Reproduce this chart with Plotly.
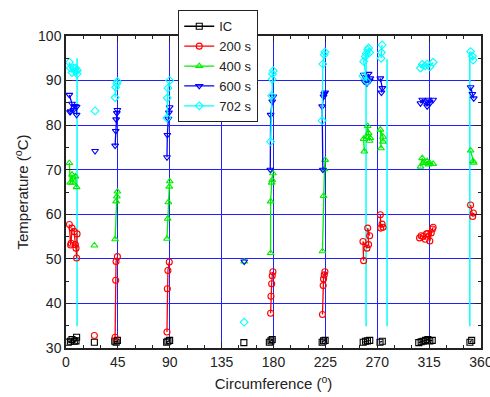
import plotly.graph_objects as go

# ---- data (None separates clusters that are not connected) ----
ic_x = [2.0, 3.8, 5.2, 7.2, 8.7, 9.2, None, 24.6, None, 42.3, 43.5, 44.6, None,
        87.3, 88.4, 89.9, None, 154.3, None, 176.4, 177.8, 178.9, None,
        222.2, 223.4, 224.8, None, 257.8, 259.8, 261.5, 263.5, None, 272.4, 274.4, None,
        306.0, 308.1, 309.8, 311.9, 313.9, 315.6, 317.7, None, 350.4, 351.9]
ic_y = [31.3, 31.5, 31.9, 31.5, 31.6, 32.4, None, 31.3, None, 31.5, 31.3, 31.7, None,
        31.3, 31.5, 31.7, None, 31.2, None, 31.3, 31.6, 31.9, None,
        31.3, 31.6, 31.7, None, 31.3, 31.5, 31.6, 31.7, None, 31.3, 31.5, None,
        31.2, 31.4, 31.5, 31.7, 31.9, 31.6, 31.7, None, 31.3, 31.7]

s200_x = [2.9, 4.0, 4.4, 5.2, 7.2, 8.1, 8.7, 9.2, 9.6, None, 24.6, None,
          42.6, 43.1, 43.4, 44.6, None, 87.6, 87.9, 88.4, 89.6, None,
          177.5, 177.8, 178.4, 178.9, 179.5, None, 222.5, 223.1, 223.4, 224.0, 224.6, None,
          258.2, 257.6, 261.1, 262.5, 261.7, 263.4, None, 272.7, 273.0, 274.2, 275.0, None,
          306.7, 308.1, 309.8, 311.6, 312.7, 313.9, 315.6, 316.8, 317.9, 318.5, None,
          351.0, 352.8, 353.4]
s200_y = [57.7, 53.1, 53.5, 56.9, 56.1, 53.2, 52.4, 50.2, 55.6, None, 32.8, None,
          32.4, 45.2, 49.4, 50.5, None, 33.6, 43.3, 47.4, 49.3, None,
          37.8, 41.6, 44.4, 46.2, 47.1, None, 37.5, 44.0, 45.5, 46.4, 47.1, None,
          49.6, 53.9, 52.4, 53.2, 56.9, 55.2, None, 59.9, 56.9, 57.8, 57.1, None,
          54.7, 55.2, 55.0, 54.4, 55.6, 55.7, 54.0, 55.8, 56.7, 57.1, None,
          62.1, 59.5, 60.3]

s400_x = [2.9, 3.7, 5.2, 5.8, 8.1, 9.2, None, 24.6, None,
          42.6, 43.5, 44.1, 44.6, None, 87.6, 88.2, 88.8, 89.6, 90.0, None,
          154.6, None, 177.5, 177.5, 178.4, 178.9, 179.5, None,
          222.5, 223.4, 224.2, 224.8, None,
          258.8, 258.2, 260.5, 261.7, 262.5, 263.4, 264.0, None,
          273.3, 272.7, 275.0, 275.0, None,
          307.5, 309.0, 309.8, 311.6, 313.3, 314.5, 315.6, 318.5, None,
          351.0, 353.1, 353.7]
s400_y = [71.5, 67.1, 68.9, 67.1, 68.5, 66.1, None, 53.0, None,
          54.4, 62.9, 64.0, 65.1, None, 54.5, 59.0, 62.7, 66.2, 67.4, None,
          49.4, None, 51.3, 62.9, 67.1, 67.7, 69.2, None,
          51.7, 64.1, 70.1, 72.2, None,
          74.1, 76.9, 77.4, 79.8, 78.2, 76.5, 77.1, None,
          74.8, 79.0, 77.4, 76.3, None,
          70.7, 72.6, 71.5, 71.5, 71.9, 71.2, 71.5, 71.3, None,
          74.3, 71.9, 71.6]

s600_x = [2.9, 5.2, 4.0, 3.5, 6.4, 7.8, 9.2, 9.2, None, 25.2, None,
          42.6, 43.1, 43.5, 44.1, 44.6, None, 87.6, 87.9, 88.8, 89.3, 89.9, None,
          154.6, None, 177.2, 177.5, 178.9, 179.8, None,
          222.8, 222.2, 223.4, 224.0, 224.8, None,
          258.2, 258.8, 260.5, 261.1, 262.5, 263.4, 264.0, None,
          272.7, 274.4, 273.6, None,
          307.5, 309.0, 311.6, 313.3, 314.5, 315.6, 318.5, None,
          351.0, 352.5, 353.7]
s600_y = [86.8, 84.8, 83.1, 82.9, 83.4, 84.3, 84.1, 82.3, None, 74.2, None,
          75.4, 78.7, 81.3, 82.7, 83.4, None, 72.8, 77.8, 81.4, 82.8, 84.0, None,
          49.4, None, 70.0, 82.3, 85.3, 86.4, None,
          70.0, 84.2, 86.4, 87.0, 87.3, None,
          91.3, 89.8, 90.3, 89.4, 91.5, 90.0, 90.5, None,
          90.5, 88.3, 87.3, None,
          84.9, 85.7, 85.3, 84.2, 85.7, 84.9, 85.7, None,
          88.5, 87.0, 86.0]

s702_x = [2.9, 3.8, 5.2, 6.4, 8.1, 8.7, 9.8, 9.6, None, 25.2, None,
          42.6, 43.1, 44.1, 44.6, None, 87.6, 87.9, 88.4, 89.9, None,
          154.6, None, 177.5, 178.4, 178.9, 179.2, 179.8, None,
          222.2, 222.8, 224.0, 224.6, None,
          257.6, 261.1, 258.2, 259.6, 260.5, 261.7, 262.5, 263.4, None,
          273.3, 273.6, 274.2, None,
          307.5, 309.0, 311.6, 313.3, 315.6, 318.5, None,
          351.0, 352.5, 353.1]
s702_y = [94.1, 92.8, 91.8, 92.8, 92.8, 92.1, 92.3, 91.5, None, 83.2, None,
          86.2, 88.5, 89.3, 89.8, None, 81.6, 86.1, 88.3, 90.0, None,
          35.8, None, 76.3, 86.6, 90.3, 91.5, 92.2, None,
          81.0, 93.7, 95.8, 96.4, None,
          91.0, 89.8, 94.3, 95.4, 96.1, 96.9, 97.3, 96.3, None,
          95.0, 96.3, 98.0, None,
          92.8, 93.6, 93.3, 93.7, 93.1, 94.1, None,
          96.5, 95.5, 94.6]

# cyan vertical reference lines (702 s)
ref_x = [9.6, 9.6, None, 260.3, 260.3, None, 278.5, 278.5, None, 350.3, 350.3]
ref_y = [34.9, 95.0, None, 34.9, 96.5, None, 34.9, 94.8, None, 34.9, 96.5]

x_ticks = [0, 45, 90, 135, 180, 225, 270, 315, 360]
y_ticks = [30, 40, 50, 60, 70, 80, 90, 100]

series = [
    ("IC", ic_x, ic_y, "#000000", "square-open"),
    ("200 s", s200_x, s200_y, "#ff0000", "circle-open"),
    ("400 s", s400_x, s400_y, "#00ee00", "triangle-up-open"),
    ("600 s", s600_x, s600_y, "#0000ff", "triangle-down-open"),
    ("702 s", s702_x, s702_y, "#00ffff", "diamond-open"),
]

fig = go.Figure()
fig.add_trace(go.Scatter(x=ref_x, y=ref_y, mode="lines", showlegend=False,
                         line=dict(color="#00ffff", width=1.5), hoverinfo="skip"))
for name, xs, ys, col, sym in series:
    fig.add_trace(go.Scatter(
        x=xs, y=ys, name=name, mode="lines+markers", connectgaps=False,
        line=dict(color=col, width=1.3),
        marker=dict(symbol=sym, size=6, color=col, line=dict(color=col, width=1.1)),
    ))

font_family = "Liberation Sans, Arial, sans-serif"
fig.update_layout(
    width=490, height=397,
    margin=dict(l=66, r=9, t=36, b=49, autoexpand=False),
    paper_bgcolor="white", plot_bgcolor="white",
    font=dict(family=font_family, size=14, color="#222222"),
    showlegend=True,
    legend=dict(x=0.27, y=1.083, xanchor="left", yanchor="top",
                bgcolor="white", bordercolor="#222222", borderwidth=1.2,
                font=dict(size=13), tracegroupgap=0, itemwidth=30),
    xaxis=dict(
        range=[0, 360], tickvals=x_ticks, ticktext=[str(v) for v in x_ticks],
        showgrid=True, gridcolor="#2020ff", gridwidth=1, automargin=False,
        ticklabeloverflow="allow",
        showline=True, linecolor="#222222", linewidth=1.5, mirror="ticks",
        ticks="inside", ticklen=6, tickcolor="#222222",
        minor=dict(dtick=15, tick0=0, ticks="inside", ticklen=3, tickcolor="#222222", showgrid=False),
        zeroline=False, tickfont=dict(size=14),
        title=dict(text="Circumference (<sup>o</sup>)", standoff=10, font=dict(size=15)),
    ),
    yaxis=dict(
        range=[30, 100], tickvals=y_ticks, ticktext=[str(v) for v in y_ticks],
        showgrid=True, gridcolor="#2020ff", gridwidth=1, automargin=False,
        showline=True, linecolor="#222222", linewidth=1.5, mirror="ticks",
        ticks="inside", ticklen=6, tickcolor="#222222",
        minor=dict(dtick=5, tick0=30, ticks="inside", ticklen=3, tickcolor="#222222", showgrid=False),
        zeroline=False, tickfont=dict(size=14),
        title=dict(text="Temperature (<sup>o</sup>C)", standoff=6, font=dict(size=15)),
    ),
)

# remove the default page margin so the 490x397 figure fills the window exactly
fig.write_html("out.html", config={"displayModeBar": False},
               post_script="document.body.style.margin='0';document.body.style.overflow='hidden';")
